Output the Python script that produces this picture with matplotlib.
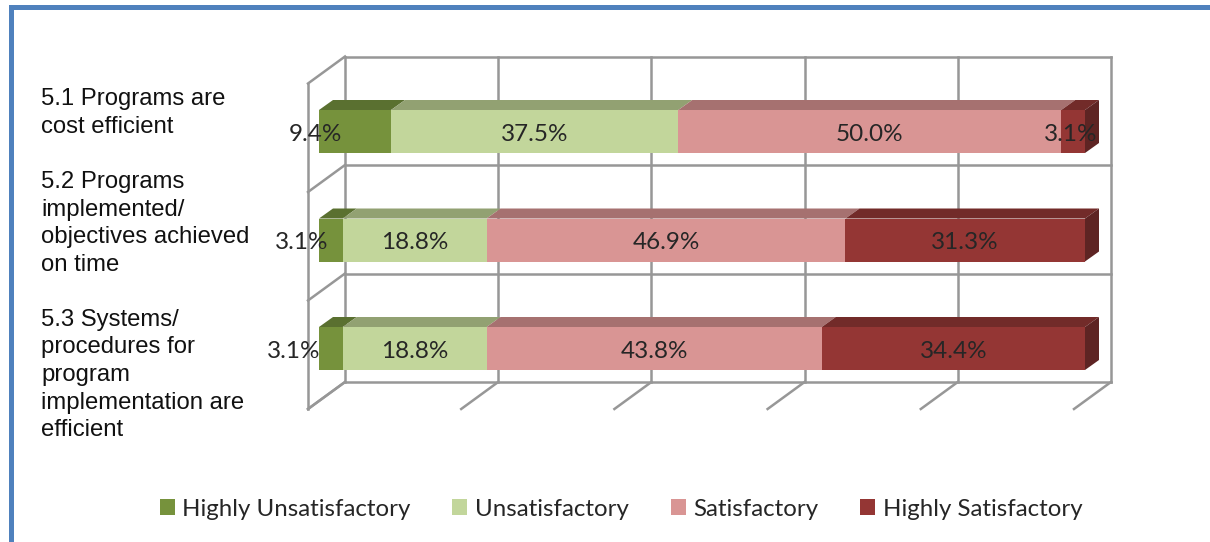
import matplotlib
matplotlib.use('Agg')
import matplotlib.pyplot as plt
from matplotlib.patches import Patch, Polygon, Rectangle

# Values
categories = ['5.1 Programs are\ncost efficient',
              '5.2 Programs\nimplemented/\nobjectives achieved\non time',
              '5.3 Systems/\nprocedures for\nprogram\nimplementation are\nefficient']
series_names = ['Highly Unsatisfactory', 'Unsatisfactory', 'Satisfactory', 'Highly Satisfactory']
highly_unsat = [9.4, 3.1, 3.1]
unsat = [37.5, 18.8, 18.8]
satis = [50.0, 46.9, 43.8]
highly_sat = [3.1, 31.3, 34.4]
grid_ticks = [0, 20, 40, 60, 80, 100]

front_colors = ['#76923C', '#C2D69B', '#D99594', '#943634']
top_colors = ['#5A7030', '#92A172', '#A67170', '#722B29']
side_color = '#5E2423'
grid_color = '#979797'
text_color = '#262626'

fig = plt.figure(figsize=(12.10, 5.42), dpi=100, facecolor='white')
ax = fig.add_axes([0, 0, 1, 1])

# one % is 7.66 px, one row is 108.5 px, origin of the bars at px (319, 131.5)
PX = 7.66
ROW = 108.5
ax.set_xlim(-319 / PX, (1210 - 319) / PX)
ax.set_ylim((542 - 131.5) / ROW, -131.5 / ROW)
ax.axis('off')

bar_h = 43 / ROW
bar_dx = 14 / PX
bar_dy = 10 / ROW
wall_left = -11 / PX
wall_dx = 37 / PX
wall_dy = 27 / ROW
wall_bottom = (409 - 131.5) / ROW
floors = [wall_bottom - i for i in range(4)]

# back wall, side wall and floor
for f in floors:
    back_y = f - wall_dy
    ax.plot([wall_left, wall_left + wall_dx], [f, back_y], color=grid_color, lw=1.8, zorder=1)
    ax.plot([wall_left + wall_dx, 100 + wall_left + wall_dx], [back_y, back_y], color=grid_color, lw=1.8, zorder=1)
ax.plot([wall_left, wall_left], [floors[0], floors[-1]], color=grid_color, lw=1.8, zorder=1)
for t in grid_ticks:
    xb = t + wall_left + wall_dx
    ax.plot([xb, xb], [floors[0] - wall_dy, floors[-1] - wall_dy], color=grid_color, lw=1.8, zorder=1)
    ax.plot([t + wall_left, xb], [floors[0], floors[0] - wall_dy], color=grid_color, lw=1.8, zorder=1)

rows = list(zip(highly_unsat, unsat, satis, highly_sat))
label_left = [315, 302, 294]  # small first segment labels sit left of the bar, px

for r, vals in enumerate(rows):
    total = sum(vals)
    left = 0
    y0 = r - bar_h / 2
    for s, v in enumerate(vals):
        w = v / total * 100
        ax.barh(r, w, height=bar_h, left=left, color=front_colors[s], lw=0, zorder=3)
        ax.add_patch(Polygon([(left, y0), (left + w, y0), (left + w + bar_dx, y0 - bar_dy), (left + bar_dx, y0 - bar_dy)],
                             closed=True, facecolor=top_colors[s], lw=0, zorder=2.5))
        lx = left + w / 2
        if s == 0:
            lx = (label_left[r] - 319) / PX
        if r == 0 and s == 3:
            lx = (1071 - 319) / PX
        ax.text(lx, r + 0.025, f'{v:.1f}%', ha='center', va='center', fontsize=17.5,
                family='Lato', color=text_color, zorder=6)
        left += w
    ax.add_patch(Polygon([(100, y0), (100 + bar_dx, y0 - bar_dy), (100 + bar_dx, y0 + bar_h - bar_dy), (100, y0 + bar_h)],
                         closed=True, facecolor=side_color, lw=0, zorder=2.5))

# category labels, block centres in px
label_centres = [113, 223.5, 375]
for r, cat in enumerate(categories):
    ax.text((41 - 319) / PX, (label_centres[r] - 131.5) / ROW, cat, ha='left', va='center',
            fontsize=17.2, family='Liberation Sans', color='#111111', linespacing=1.33, zorder=6)

# slide border
ax.add_patch(Rectangle(((9 - 319) / PX, (5 - 131.5) / ROW), 1201 / PX, 5 / ROW, facecolor='#4F81BD', lw=0, zorder=7))
ax.add_patch(Rectangle(((9 - 319) / PX, (5 - 131.5) / ROW), 5 / PX, 537 / ROW, facecolor='#4F81BD', lw=0, zorder=7))

handles = [Patch(facecolor=c, label=n, lw=0) for c, n in zip(front_colors, series_names)]
ax.legend(handles=handles, ncol=4, frameon=False, loc='center', bbox_to_anchor=(621 / 1210, 1 - 509 / 542),
          prop={'family': 'Lato', 'size': 17.3}, handlelength=0.62, handleheight=0.62, handletextpad=0.32,
          columnspacing=1.74, labelcolor=text_color)

fig.savefig('out.png', dpi=100)
